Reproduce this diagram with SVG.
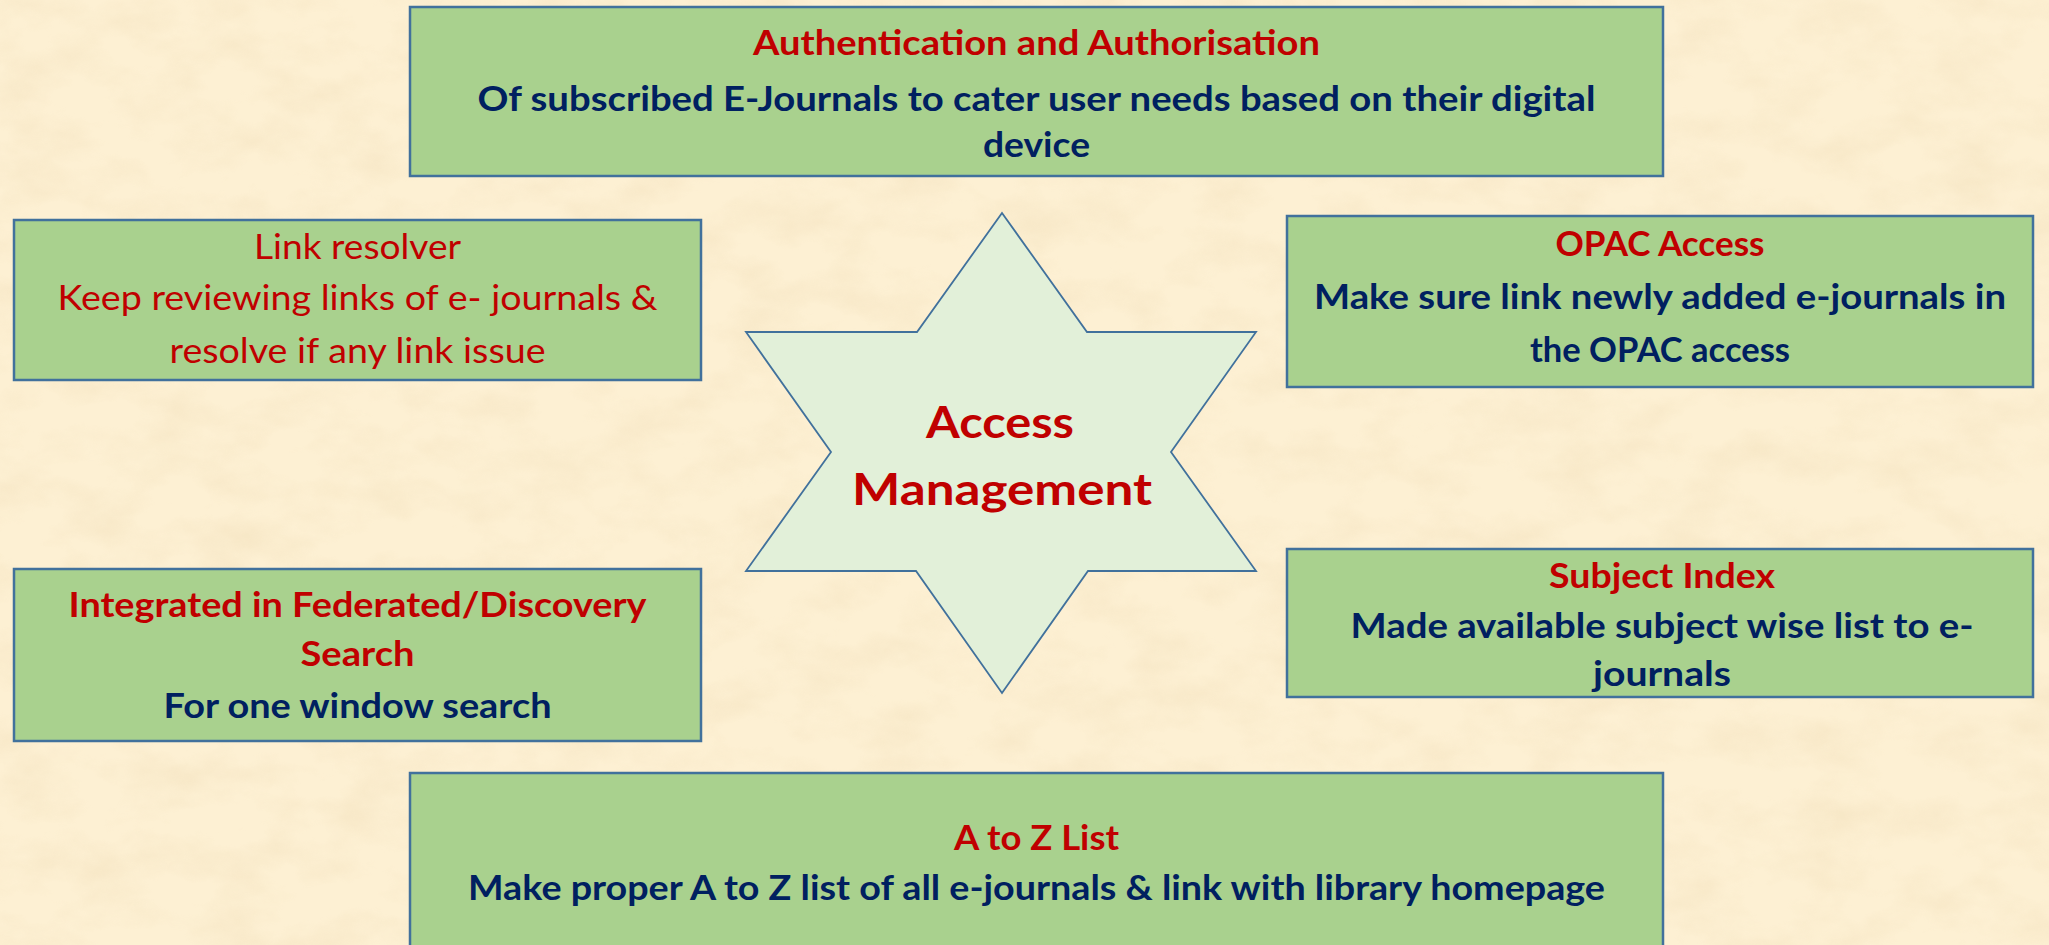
<svg xmlns="http://www.w3.org/2000/svg" width="2049" height="945" viewBox="0 0 2049 945">
  <defs>
    <filter id="paper" x="0" y="0" width="100%" height="100%">
      <feTurbulence type="fractalNoise" baseFrequency="0.015 0.025" numOctaves="4" seed="7" result="n"/>
      <feColorMatrix in="n" type="matrix" values="0 0 0 0 0.90  0 0 0 0 0.76  0 0 0 0 0.52  2.0 0 0 0 -0.8"/>
    </filter>
    <style>
      .box { fill: #a9d18e; stroke: #41719c; stroke-width: 2.5; }
      .star { fill: #e2f0d9; stroke: #41719c; stroke-width: 1.8; }
      text { font-family: Lato, "Open Sans", "Liberation Sans", sans-serif; text-anchor: middle; font-size: 35px; }
      .b { font-weight: bold; }
      .red { fill: #c00000; }
      .blue { fill: #002060; }
      .big { font-size: 44px; font-weight: bold; fill: #c00000; }
    </style>
  </defs>
  <rect x="0" y="0" width="2049" height="945" fill="#fdf0d3"/>
  <rect x="0" y="0" width="2049" height="945" filter="url(#paper)" opacity="0.55"/>

  <g id="connectors"></g>

  <g id="node-auth">
    <rect class="box" x="410" y="7" width="1253" height="169"/>
    <text class="b red" x="1036.5" y="55" textLength="567" lengthAdjust="spacingAndGlyphs">Authentication and Authorisation</text>
    <text class="b blue" x="1036.5" y="111" textLength="1118" lengthAdjust="spacingAndGlyphs">Of subscribed E-Journals to cater user needs based on their digital</text>
    <text class="b blue" x="1036.5" y="157" textLength="107" lengthAdjust="spacingAndGlyphs">device</text>
  </g>

  <g id="node-link">
    <rect class="box" x="14" y="220" width="687" height="160"/>
    <text class="red" x="357.5" y="259" textLength="207" lengthAdjust="spacingAndGlyphs">Link resolver</text>
    <text class="red" x="357.5" y="310" textLength="600" lengthAdjust="spacingAndGlyphs">Keep reviewing links of e- journals &amp;</text>
    <text class="red" x="357.5" y="363" textLength="376" lengthAdjust="spacingAndGlyphs">resolve if any link issue</text>
  </g>

  <g id="node-opac">
    <rect class="box" x="1287" y="216" width="746" height="171"/>
    <text class="b red" x="1660" y="256" textLength="209" lengthAdjust="spacingAndGlyphs">OPAC Access</text>
    <text class="b blue" x="1660" y="309" textLength="692" lengthAdjust="spacingAndGlyphs">Make sure link newly added e-journals in</text>
    <text class="b blue" x="1660" y="362" textLength="260" lengthAdjust="spacingAndGlyphs">the OPAC access</text>
  </g>

  <g id="node-center">
    <polygon class="star" points="1002,213 917,332 746,332 831,452 746,571 916,571 1002,693 1088,571 1256,571 1171,452 1256,332 1087,332"/>
    <text class="big" x="1000" y="438" textLength="148" lengthAdjust="spacingAndGlyphs">Access</text>
    <text class="big" x="1002" y="505" textLength="300" lengthAdjust="spacingAndGlyphs">Management</text>
  </g>

  <g id="node-integrated">
    <rect class="box" x="14" y="569" width="687" height="172"/>
    <text class="b red" x="357.5" y="617" textLength="578" lengthAdjust="spacingAndGlyphs">Integrated in Federated/Discovery</text>
    <text class="b red" x="357.5" y="666" textLength="114" lengthAdjust="spacingAndGlyphs">Search</text>
    <text class="b blue" x="357.5" y="718" textLength="388" lengthAdjust="spacingAndGlyphs">For one window search</text>
  </g>

  <g id="node-subject">
    <rect class="box" x="1287" y="549" width="746" height="148"/>
    <text class="b red" x="1662" y="588" textLength="226" lengthAdjust="spacingAndGlyphs">Subject Index</text>
    <text class="b blue" x="1662" y="638" textLength="623" lengthAdjust="spacingAndGlyphs">Made available subject wise list to e-</text>
    <text class="b blue" x="1662" y="686" textLength="138" lengthAdjust="spacingAndGlyphs">journals</text>
  </g>

  <g id="node-atoz">
    <rect class="box" x="410" y="773" width="1253" height="200"/>
    <text class="b red" x="1036.5" y="850" textLength="165" lengthAdjust="spacingAndGlyphs">A to Z List</text>
    <text class="b blue" x="1036.5" y="900" textLength="1137" lengthAdjust="spacingAndGlyphs">Make proper A to Z list of all e-journals &amp; link with library homepage</text>
  </g>
</svg>
